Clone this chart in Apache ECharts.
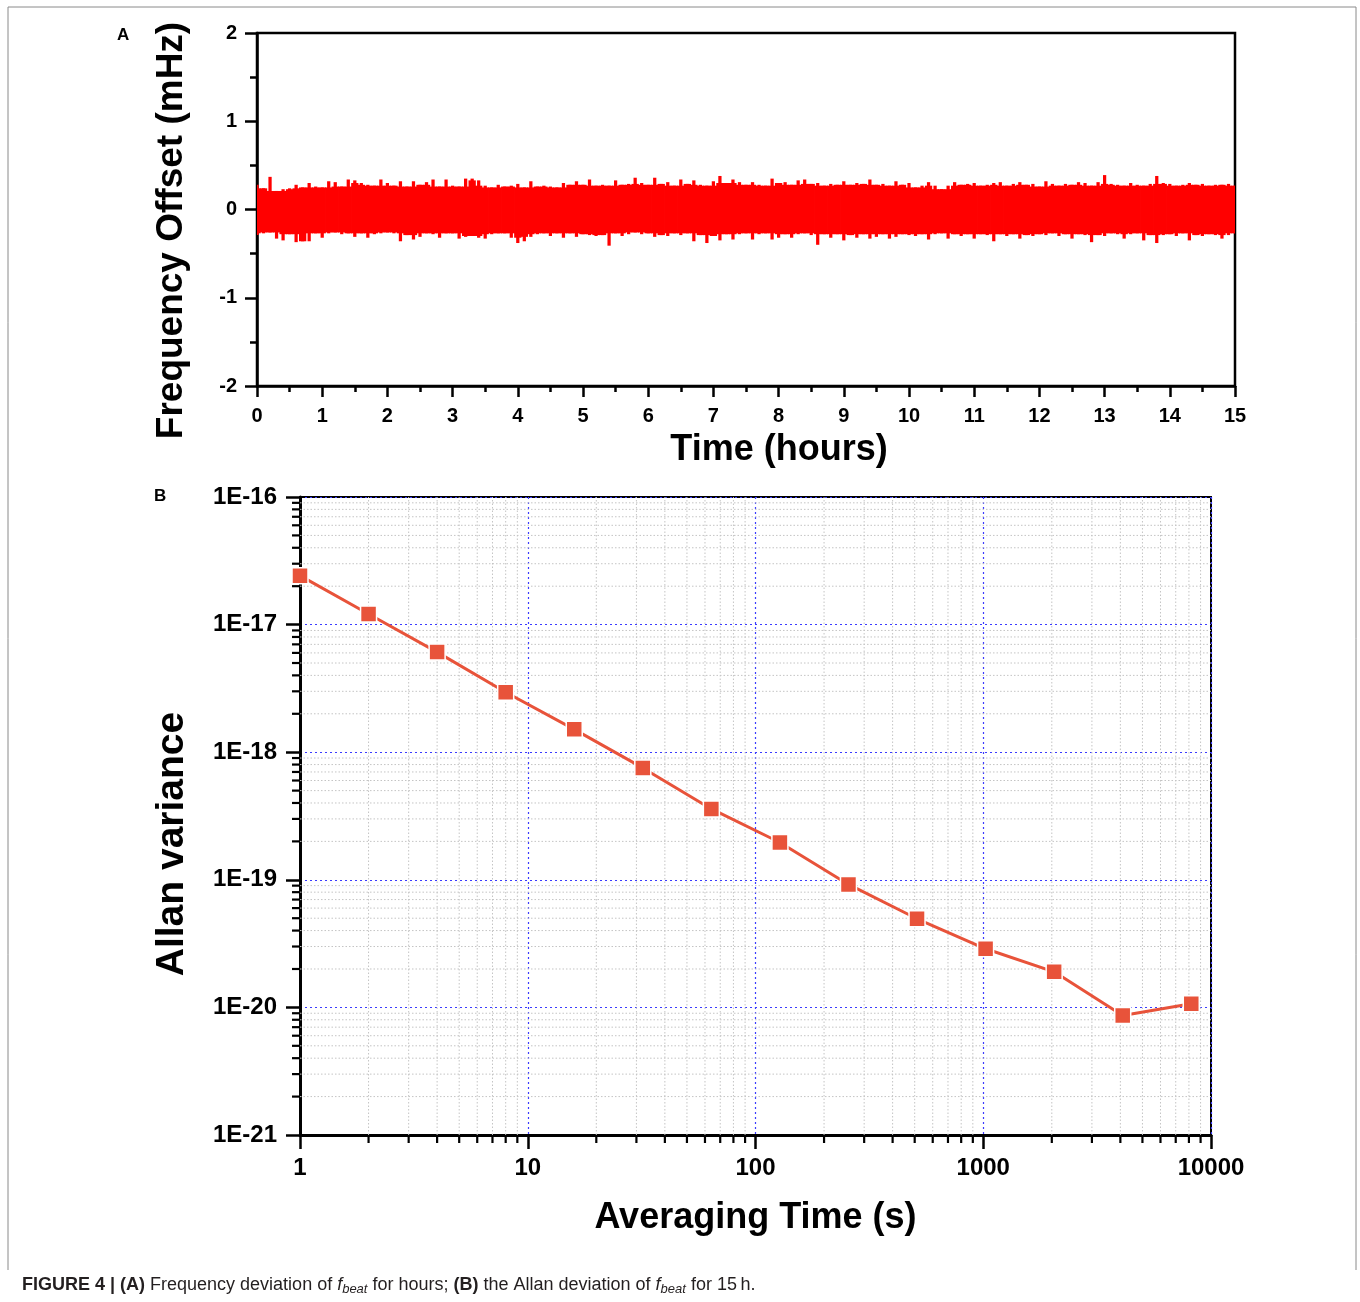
<!DOCTYPE html>
<html>
<head>
<meta charset="utf-8">
<script src="https://cdn.jsdelivr.net/npm/echarts@6/dist/echarts.min.js"></script>
<style>
html,body{margin:0;padding:0;background:#fff;}
#chart{width:1360px;height:1302px;}
</style>
</head>
<body>
<div id="chart"></div>
<script>
// ---------- Panel A: frequency offset band (envelope, every 0.1 h) ----------
const bandStep = 0.1; // hours between readings
const bandUpper = [
 0.28,0.24,0.37,0.21,0.23,0.24,0.28,0.25,0.30,0.26,
 0.25,0.32,0.31,0.26,0.34,0.33,0.30,0.28,0.27,0.34,
 0.30,0.27,0.32,0.26,0.32,0.28,0.31,0.34,0.26,0.34,
 0.27,0.26,0.35,0.35,0.33,0.27,0.25,0.28,0.26,0.27,
 0.29,0.25,0.32,0.26,0.27,0.26,0.25,0.30,0.28,0.32,
 0.28,0.34,0.27,0.28,0.27,0.33,0.28,0.29,0.36,0.30,
 0.28,0.36,0.29,0.31,0.27,0.34,0.29,0.33,0.28,0.27,
 0.32,0.38,0.30,0.34,0.31,0.28,0.31,0.28,0.27,0.35,
 0.30,0.31,0.28,0.33,0.34,0.29,0.30,0.27,0.29,0.28,
 0.32,0.28,0.30,0.29,0.34,0.28,0.29,0.27,0.32,0.28,
 0.30,0.25,0.27,0.31,0.27,0.23,0.27,0.31,0.28,0.29,
 0.30,0.27,0.28,0.30,0.31,0.27,0.29,0.31,0.28,0.29,
 0.26,0.32,0.29,0.27,0.29,0.28,0.31,0.30,0.27,0.31,
 0.39,0.29,0.28,0.27,0.30,0.28,0.27,0.29,0.38,0.30,
 0.29,0.27,0.28,0.30,0.28,0.29,0.27,0.28,0.28,0.29,0.27
];
const bandLower = [
 -0.29,-0.27,-0.26,-0.33,-0.35,-0.28,-0.37,-0.36,-0.36,-0.27,
 -0.32,-0.27,-0.26,-0.28,-0.27,-0.31,-0.27,-0.32,-0.28,-0.27,
 -0.26,-0.27,-0.36,-0.29,-0.34,-0.31,-0.27,-0.28,-0.32,-0.27,
 -0.27,-0.33,-0.31,-0.30,-0.32,-0.33,-0.28,-0.27,-0.27,-0.32,
 -0.38,-0.36,-0.31,-0.28,-0.27,-0.30,-0.27,-0.32,-0.27,-0.31,
 -0.28,-0.29,-0.30,-0.29,-0.41,-0.27,-0.30,-0.28,-0.26,-0.28,
 -0.27,-0.31,-0.29,-0.30,-0.27,-0.29,-0.27,-0.36,-0.29,-0.38,
 -0.30,-0.35,-0.28,-0.34,-0.28,-0.27,-0.34,-0.28,-0.27,-0.34,
 -0.32,-0.28,-0.32,-0.28,-0.27,-0.29,-0.40,-0.28,-0.32,-0.28,
 -0.35,-0.29,-0.32,-0.28,-0.33,-0.31,-0.28,-0.33,-0.31,-0.28,
 -0.29,-0.30,-0.28,-0.34,-0.28,-0.27,-0.33,-0.28,-0.30,-0.28,
 -0.33,-0.28,-0.29,-0.36,-0.28,-0.30,-0.28,-0.33,-0.29,-0.30,
 -0.28,-0.29,-0.27,-0.30,-0.28,-0.33,-0.28,-0.29,-0.37,-0.29,
 -0.30,-0.27,-0.28,-0.33,-0.28,-0.27,-0.35,-0.29,-0.38,-0.29,
 -0.28,-0.30,-0.27,-0.35,-0.29,-0.30,-0.28,-0.29,-0.33,-0.29,-0.27
];
const timeRange = [0, 15];
const offsetRange = [-2, 2];

// ---------- Panel B: Allan variance ----------
const tau = [1, 2, 4, 8, 16, 32, 64, 128, 256, 512, 1024, 2048, 4096, 8192];
const allanVar = [2.42e-17, 1.21e-17, 6.09e-18, 2.95e-18, 1.51e-18, 7.53e-19, 3.59e-19,
                  1.96e-19, 9.2e-20, 4.95e-20, 2.88e-20, 1.90e-20, 8.65e-21, 1.07e-20];
const tauRange = [1, 10000];
const varRange = [1e-21, 1e-16];
// the log axis runs in units of 1E-21 to avoid floating-point rounding of tiny numbers
const varUnitExp = -21;
const varUnit = Math.pow(10, varUnitExp);
const toUnit = v => v / varUnit;

// log minor tick values (axis decoration)
const xMinor = [];
for (let d = 1; d < 10000; d *= 10) for (let m = 2; m <= 9; m++) xMinor.push(m * d);
const yMinor = [];
for (let d = 1; d < 1e5; d *= 10) for (let m = 2; m <= 9; m++) yMinor.push(m * d);

const FONT = 'Liberation Sans, Arial, Helvetica, sans-serif';
const RED = '#ff0000';
const ORANGE = '#e8533a';

const chart = echarts.init(document.getElementById('chart'), null, {renderer: 'canvas'});

const yMinU = toUnit(varRange[0]), yMaxU = toUnit(varRange[1]);

function nb(arr, i, fn) {
  const a = arr[Math.max(0, i - 1)], b = arr[i], c = arr[Math.min(arr.length - 1, i + 1)];
  return fn(a, b, c);
}

const option = {
  animation: false,
  backgroundColor: '#fff',
  grid: [
    {left: 257, top: 33, width: 978, height: 353, show: true, borderColor: '#000', borderWidth: 2.5,
     containLabel: false, outerBoundsMode: 'none'},
    {left: 300, top: 497, width: 911, height: 638, show: true, borderColor: '#000', borderWidth: 2,
     containLabel: false, outerBoundsMode: 'none'}
  ],
  xAxis: [
    {
      gridIndex: 0, type: 'value', min: timeRange[0], max: timeRange[1], interval: 1,
      axisLine: {show: true, onZero: false, lineStyle: {color: '#000', width: 2.5}},
      axisTick: {show: true, length: 11, lineStyle: {color: '#000', width: 2.5}},
      minorTick: {show: true, splitNumber: 2, length: 6, lineStyle: {color: '#000', width: 2.5}},
      splitLine: {show: false},
      axisLabel: {margin: 20, color: '#000', fontFamily: FONT, fontWeight: 'bold', fontSize: 20},
      name: 'Time (hours)', nameLocation: 'middle', nameGap: 46,
      nameTextStyle: {color: '#000', fontFamily: FONT, fontWeight: 'bold', fontSize: 36, padding: [0, 0, 0, 66]}
    },
    {
      gridIndex: 1, type: 'log', logBase: 10, min: tauRange[0], max: tauRange[1],
      axisLine: {show: true, onZero: false, lineStyle: {color: '#000', width: 3}},
      axisTick: {show: true, length: 14, lineStyle: {color: '#000', width: 2.5}},
      splitLine: {show: true, lineStyle: {color: '#3b3bff', width: 1.2, type: [2, 3]}},
      axisLabel: {margin: 21, color: '#000', fontFamily: FONT, fontWeight: 'bold', fontSize: 24,
                  formatter: v => String(Math.round(v))},
      name: 'Averaging Time (s)', nameLocation: 'middle', nameGap: 65,
      nameTextStyle: {color: '#000', fontFamily: FONT, fontWeight: 'bold', fontSize: 36}
    }
  ],
  yAxis: [
    {
      gridIndex: 0, type: 'value', min: offsetRange[0], max: offsetRange[1], interval: 1,
      axisLine: {show: true, onZero: false, lineStyle: {color: '#000', width: 2.5}},
      axisTick: {show: true, length: 12, lineStyle: {color: '#000', width: 2.5}},
      minorTick: {show: true, splitNumber: 2, length: 7, lineStyle: {color: '#000', width: 2.5}},
      splitLine: {show: false},
      axisLabel: {margin: 20, color: '#000', fontFamily: FONT, fontWeight: 'bold', fontSize: 20},
      name: 'Frequency Offset (mHz)', nameLocation: 'middle', nameGap: 67,
      nameTextStyle: {color: '#000', fontFamily: FONT, fontWeight: 'bold', fontSize: 37, padding: [0, 42, 0, 0]}
    },
    {
      gridIndex: 1, type: 'log', logBase: 10, min: yMinU, max: yMaxU,
      axisLine: {show: true, onZero: false, lineStyle: {color: '#000', width: 3}},
      axisTick: {show: true, length: 14, lineStyle: {color: '#000', width: 2.5}},
      splitLine: {show: true, lineStyle: {color: '#3b3bff', width: 1.2, type: [2, 3]}},
      axisLabel: {margin: 23, color: '#000', fontFamily: FONT, fontWeight: 'bold', fontSize: 24,
                  formatter: v => '1E' + (Math.round(Math.log10(v)) + varUnitExp)},
      name: 'Allan variance', nameLocation: 'middle', nameGap: 108,
      nameTextStyle: {color: '#000', fontFamily: FONT, fontWeight: 'bold', fontSize: 39, padding: [0, 56, 0, 0]}
    }
  ],
  series: [
    {
      type: 'custom', name: 'offset', xAxisIndex: 0, yAxisIndex: 0, clip: true, z: 3,
      data: bandUpper.map((u, i) => [i * bandStep, u, bandLower[i]]),
      encode: {x: 0, y: [1, 2]},
      renderItem: function (params, api) {
        const i = params.dataIndex;
        const t = api.value(0), u = api.value(1), l = api.value(2);
        // plateau at the lower of the neighbouring readings, spike up to this reading
        const uBase = nb(bandUpper, i, Math.min);
        const lBase = nb(bandLower, i, Math.max);
        const x0 = Math.max(timeRange[0], t - bandStep / 2);
        const x1 = Math.min(timeRange[1], t + bandStep / 2);
        const s0 = Math.max(timeRange[0], t - bandStep * 0.25);
        const s1 = Math.min(timeRange[1], t + bandStep * 0.25);
        const a = api.coord([x0, uBase]), b = api.coord([x1, lBase]);
        const su = api.coord([s0, u]), sl = api.coord([s1, l]);
        const sb = api.coord([s1, 0]);
        return {type: 'group', children: [
          {type: 'rect', shape: {x: a[0] - 0.4, y: a[1], width: b[0] - a[0] + 0.8, height: b[1] - a[1]}, style: {fill: RED}},
          {type: 'rect', shape: {x: su[0], y: su[1], width: sl[0] - su[0], height: sb[1] - su[1]}, style: {fill: RED}},
          {type: 'rect', shape: {x: su[0], y: sb[1], width: sl[0] - su[0], height: sl[1] - sb[1]}, style: {fill: RED}}
        ]};
      }
    },
    {
      type: 'custom', name: 'xMinor', xAxisIndex: 1, yAxisIndex: 1, clip: false, z: 1, silent: true,
      data: xMinor.map(v => [v, yMinU]),
      renderItem: function (params, api) {
        const v = api.value(0);
        const a = api.coord([v, yMinU]);
        const b = api.coord([v, yMaxU]);
        return {type: 'group', children: [
          {type: 'line', shape: {x1: a[0], y1: a[1], x2: b[0], y2: b[1]},
           style: {stroke: '#c4c4c4', lineWidth: 1, lineDash: [1.5, 2]}},
          {type: 'line', shape: {x1: a[0], y1: a[1], x2: a[0], y2: a[1] + 8},
           style: {stroke: '#000', lineWidth: 2.2}}
        ]};
      }
    },
    {
      type: 'custom', name: 'yMinor', xAxisIndex: 1, yAxisIndex: 1, clip: false, z: 1, silent: true,
      data: yMinor.map(v => [tauRange[0], v]),
      renderItem: function (params, api) {
        const v = api.value(1);
        const a = api.coord([tauRange[0], v]);
        const b = api.coord([tauRange[1], v]);
        return {type: 'group', children: [
          {type: 'line', shape: {x1: a[0], y1: a[1], x2: b[0], y2: b[1]},
           style: {stroke: '#c4c4c4', lineWidth: 1, lineDash: [1.5, 2]}},
          {type: 'line', shape: {x1: a[0], y1: a[1], x2: a[0] - 8, y2: a[1]},
           style: {stroke: '#000', lineWidth: 2.2}}
        ]};
      }
    },
    {
      type: 'line', name: 'Allan variance', xAxisIndex: 1, yAxisIndex: 1, z: 5,
      data: tau.map((t, i) => [t, toUnit(allanVar[i])]),
      symbol: 'rect', symbolSize: 16,
      itemStyle: {color: ORANGE, borderColor: '#fff', borderWidth: 1.5},
      lineStyle: {color: ORANGE, width: 3}
    }
  ],
  graphic: [
    {type: 'polyline', silent: true, shape: {points: [[8, 1270], [8, 7], [1356, 7], [1356, 1270]]},
     style: {stroke: '#8a8a8a', lineWidth: 1, fill: null}},
    {type: 'text', left: 117, top: 27, style: {text: 'A', font: 'bold 17px ' + FONT, fill: '#000'}},
    {type: 'text', left: 154, top: 488, style: {text: 'B', font: 'bold 17px ' + FONT, fill: '#000'}},
    {type: 'text', left: 22, top: 1274, style: {
      text: '{b|FIGURE 4 | (A)}{n| Frequency deviation of }{i|f}{s|beat}{n| for hours; }{b|(B)}{n| the Allan deviation of }{i|f}{s|beat}{n| for 15\u2009h.}',
      rich: {
        b: {fontFamily: 'Liberation Sans Narrow, ' + FONT, fontWeight: 'bold', fontSize: 18, fill: '#231f20', lineHeight: 22},
        n: {fontFamily: 'Liberation Sans Narrow, ' + FONT, fontSize: 18, fill: '#231f20', lineHeight: 22},
        i: {fontFamily: 'Liberation Sans Narrow, ' + FONT, fontStyle: 'italic', fontSize: 18, fill: '#231f20', lineHeight: 22},
        s: {fontFamily: 'Liberation Sans Narrow, ' + FONT, fontStyle: 'italic', fontSize: 13, fill: '#231f20', lineHeight: 22, padding: [9, 0, 0, 0]}
      }
    }}
  ]
};
chart.setOption(option);
</script>
</body>
</html>
